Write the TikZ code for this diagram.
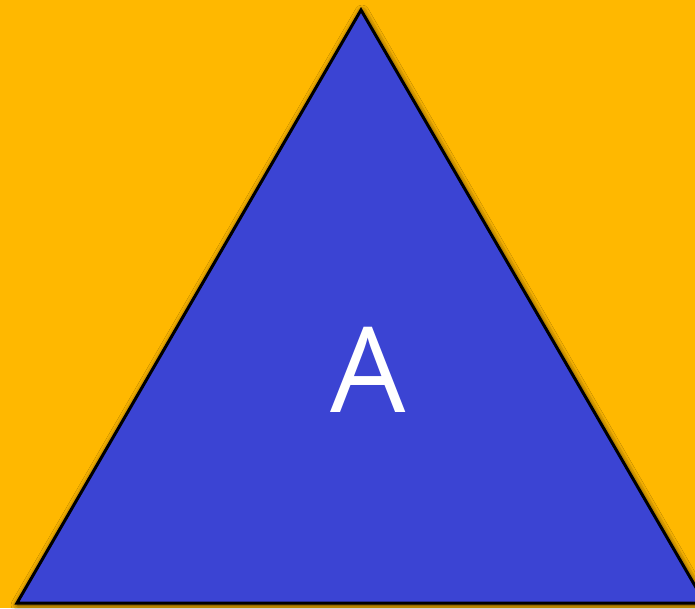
\documentclass[tikz,border=0pt]{standalone}
\usepackage{fontspec}
\setmainfont{Open Sans}
\usetikzlibrary{shadows.blur}
\definecolor{bgcol}{HTML}{FFB800}
\definecolor{tricol}{HTML}{3B44D3}
\tikzset{
  tri/.style={fill=tricol, draw=black, line width=3pt, line join=miter,
    blur shadow={shadow xshift=1pt, shadow yshift=-2pt, shadow blur radius=7pt, shadow opacity=85}},
  lbl/.style={text=white, font=\fontsize{119}{119}\selectfont, inner sep=0pt}
}
\begin{document}
\begin{tikzpicture}[x=1pt,y=-1pt]
\fill[bgcol] (0,0) rectangle (695,608);
\useasboundingbox (0,0) rectangle (695,608);
\begin{scope}
\clip (0,0) rectangle (695,608);
\path[tri] (361,10) -- (705,603) -- (17,603) -- cycle;
\node[lbl] (A) at (368,370) {A};
\end{scope}
\end{tikzpicture}
\end{document}
